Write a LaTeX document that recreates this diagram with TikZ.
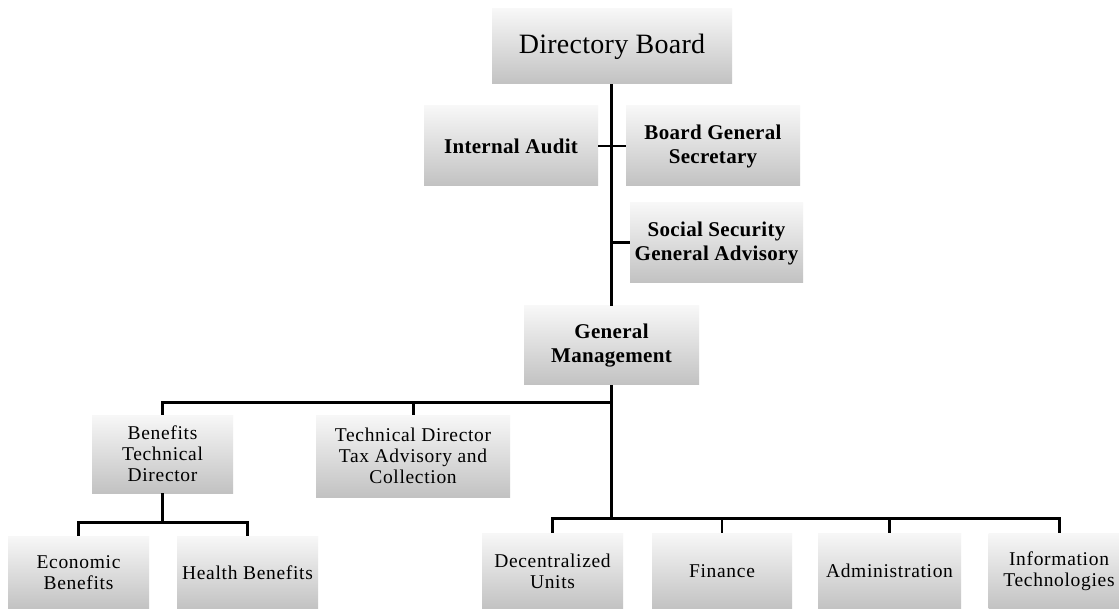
\documentclass[tikz,border=0pt]{standalone}
\usepackage{fontspec}
\setmainfont{Liberation Serif}
\newfontfamily\bigfontfam[LetterSpace=1]{Liberation Serif}
\newfontfamily\bldfontfam[LetterSpace=1.5]{Liberation Serif}
\newfontfamily\regfontfam[LetterSpace=3.5]{Liberation Serif}
\begin{document}
\begin{tikzpicture}[x=1pt,y=-1pt,
  box/.style={top color=gray!6, bottom color=gray!48, draw=none, align=center,
    inner sep=2pt, anchor=center},
  big/.style={font=\bigfontfam\fontsize{28}{32}\selectfont},
  bld/.style={font=\bldfontfam\fontsize{21}{24}\selectfont\bfseries},
  reg/.style={font=\regfontfam\fontsize{19.5}{21}\selectfont},
  conn/.style={line width=3pt, black},
  thin/.style={line width=2pt, black}]
\useasboundingbox (0,0) rectangle (1119,609);
\fill[white] (0,0) rectangle (1119,609);
\clip (0,0) rectangle (1119,609);
% nodes
\node[box,big,minimum width=240pt,minimum height=75pt] (db) at (612,46.5) {Directory Board};
\node[box,bld,minimum width=174pt,minimum height=80pt] (ia) at (511,146) {Internal Audit};
\node[box,bld,minimum width=174pt,minimum height=80pt] (bgs) at (713,146) {Board General\\Secretary};
\node[box,bld,minimum width=173pt,minimum height=80pt] (ssga) at (716.5,243) {Social Security\\General Advisory};
\node[box,bld,minimum width=175pt,minimum height=79pt] (gm) at (611.5,345.5) {General\\Management};
\node[box,reg,minimum width=141pt,minimum height=78pt] (btd) at (162.5,454) {Benefits\\Technical\\Director};
\node[box,reg,minimum width=194pt,minimum height=82pt] (tdta) at (413,456) {Technical Director\\Tax Advisory and\\Collection};
\node[box,reg,minimum width=141pt,minimum height=73pt] (eb) at (78.5,572.5) {Economic\\Benefits};
\node[box,reg,minimum width=141pt,minimum height=73pt] (hb) at (247.5,572.5) {Health Benefits};
\node[box,reg,minimum width=141pt,minimum height=76pt] (du) at (552.5,571) {Decentralized\\Units};
\node[box,reg,minimum width=140pt,minimum height=76pt] (fi) at (722,571) {Finance};
\node[box,reg,minimum width=143pt,minimum height=76pt] (ad) at (889.5,571) {Administration};
\node[box,reg,minimum width=141pt,minimum height=76pt] (it) at (1059,571) {Information\\Technologies};
% junctions
\coordinate (j1) at (611,403);
\coordinate (j2) at (611,518);
\coordinate (j3) at (163,522);
% connectors
\draw[conn] (db.south -| j1) -- (gm.north -| j1);
\draw[thin] (ia.east) -- (bgs.west);
\draw[conn] (ssga.west) -- (ssga.west -| j1);
\draw[conn] (gm.south -| j1) -- (j1) -- (j1 -| btd.north) -- (btd.north);
\draw[conn] (tdta.north) -- (tdta.north |- j1);
\draw[conn] (j1) -- (j2);
\draw[conn] (du.north) -- (du.north |- j2) -- (it.north |- j2) -- (it.north);
\draw[thin] (fi.north) -- (fi.north |- j2);
\draw[conn] (ad.north) -- (ad.north |- j2);
\draw[conn] (btd.south) -- (btd.south |- j3);
\draw[conn] (eb.north) -- (eb.north |- j3) -- (hb.north |- j3) -- (hb.north);
\end{tikzpicture}
\end{document}
